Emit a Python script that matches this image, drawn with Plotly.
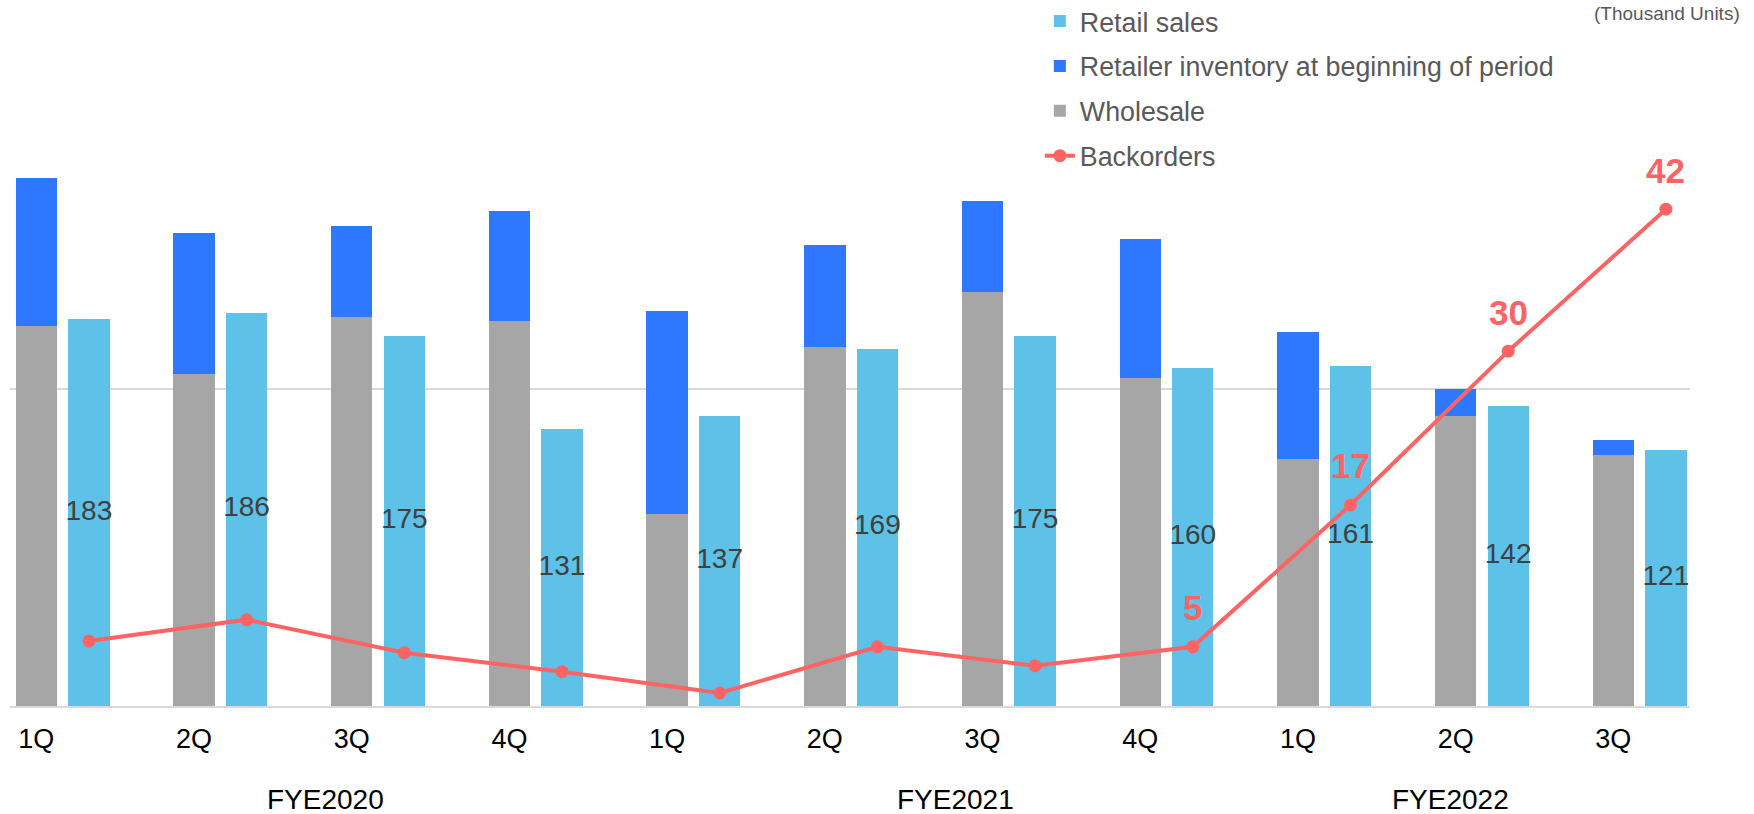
import plotly.graph_objects as go

# Quarterly unit figures (thousand units)
quarters = ["1Q", "2Q", "3Q", "4Q", "1Q", "2Q", "3Q", "4Q", "1Q", "2Q", "3Q"]
fiscal_years = ["FYE2020", "FYE2021", "FYE2022"]
retail_sales = [183, 186, 175, 131, 137, 169, 175, 160, 161, 142, 121]
wholesale = [180, 157, 184, 182, 91, 170, 196, 155, 117, 137, 119]
inventory_begin = [70, 67, 43, 52, 96, 48, 43, 66, 60, 13, 7]
backorders = [5.5, 7.3, 4.5, 2.9, 1.1, 5.0, 3.4, 5, 17, 30, 42]
backorders_labeled = [False, False, False, False, False, False, False, True, True, True, True]

# Layout constants
FONT = "Liberation Sans, Arial, sans-serif"
C_RETAIL = "#5EC1E8"
C_INV = "#2E78FF"
C_WHOLE = "#A6A6A6"
C_BACK = "#FF6363"
BAR_W = 0.262
RETAIL_OFFSET = 0.333
YEAR_POS = [1.833, 5.83, 8.97]

idx = list(range(len(quarters)))
x_retail = [i + RETAIL_OFFSET for i in idx]

fig = go.Figure()

fig.add_trace(go.Bar(
    x=x_retail, y=retail_sales, width=BAR_W, name="Retail sales",
    marker=dict(color=C_RETAIL, line=dict(width=0)), legendgroup="a",
    hoverinfo="skip",
))
fig.add_trace(go.Bar(
    x=idx, y=inventory_begin, base=wholesale, width=BAR_W,
    name="Retailer inventory at beginning of period",
    marker=dict(color=C_INV, line=dict(width=0)), legendgroup="b",
    hoverinfo="skip",
))
fig.add_trace(go.Bar(
    x=idx, y=wholesale, width=BAR_W, name="Wholesale",
    marker=dict(color=C_WHOLE, line=dict(width=0)), legendgroup="c",
    hoverinfo="skip",
))
fig.add_trace(go.Scatter(
    x=x_retail, y=backorders, name="Backorders", mode="lines+markers",
    line=dict(color=C_BACK, width=4), marker=dict(color=C_BACK, size=13),
    yaxis="y2", legendgroup="d", hoverinfo="skip",
))
# Retail sales values centred inside the bars
fig.add_trace(go.Scatter(
    x=x_retail, y=[v / 2 for v in retail_sales], mode="text",
    text=[str(v) for v in retail_sales], textposition="middle center",
    textfont=dict(family=FONT, size=28, color="#404040"),
    showlegend=False, hoverinfo="skip",
))

annotations = []
for xv, v, show in zip(x_retail, backorders, backorders_labeled):
    if show:
        annotations.append(dict(
            x=xv, y=v, xref="x", yref="y2", text=f"<b>{v:g}</b>",
            showarrow=False, yshift=39, yanchor="middle",
            font=dict(family=FONT, size=35, color=C_BACK),
        ))
for name, xp in zip(fiscal_years, YEAR_POS):
    annotations.append(dict(
        x=xp, y=0, xref="x", yref="paper", text=name, showarrow=False,
        yanchor="middle", yshift=-93,
        font=dict(family=FONT, size=28, color="#000000"),
    ))
annotations.append(dict(
    x=1, y=1, xref="paper", yref="paper", xanchor="right", yanchor="middle",
    text="(Thousand Units)", showarrow=False, xshift=52, yshift=59,
    font=dict(family=FONT, size=19, color="#595959"),
))

fig.update_layout(
    width=1754, height=814,
    margin=dict(l=10, r=64, t=72, b=108, autoexpand=False),
    paper_bgcolor="white", plot_bgcolor="white",
    barmode="overlay", bargap=0,
    font=dict(family=FONT),
    showlegend=True,
    legend=dict(
        x=0.613, y=1.118, xanchor="left", yanchor="top",
        traceorder="grouped", tracegroupgap=7,
        font=dict(family=FONT, size=26.8, color="#595959"),
        bgcolor="rgba(0,0,0,0)",
    ),
    xaxis=dict(
        range=[-0.167, 10.486], tickvals=idx, ticktext=quarters,
        tickfont=dict(family=FONT, size=27, color="#000000"),
        ticklabelstandoff=8,
        showgrid=False, zeroline=False, showline=True,
        linecolor="#D9D9D9", linewidth=2, ticks="",
    ),
    yaxis=dict(
        range=[0, 300], tickvals=[150], showticklabels=False,
        showgrid=True, gridcolor="#D9D9D9", gridwidth=1.5, zeroline=False,
    ),
    yaxis2=dict(
        range=[0, 53.6], overlaying="y", side="right", showgrid=False,
        showticklabels=False, zeroline=False,
    ),
    annotations=annotations,
)

fig.write_html("out.html")
